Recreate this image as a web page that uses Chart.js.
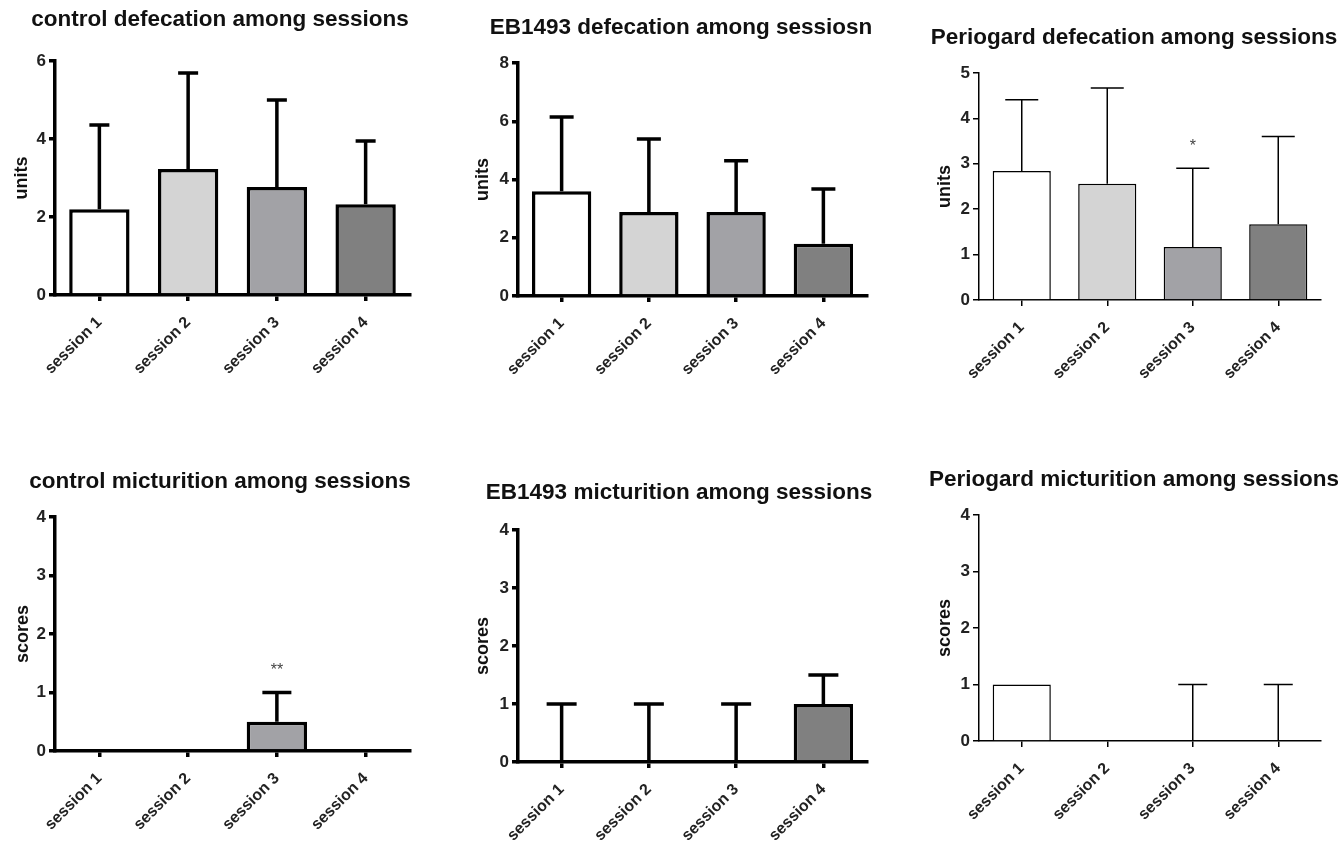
<!DOCTYPE html>
<html>
<head>
<meta charset="utf-8">
<script src="https://cdn.jsdelivr.net/npm/chart.js@4.4.1/dist/chart.umd.min.js"></script>
<style>
    html, body { margin: 0; padding: 0; background: #fff; width: 1338px; height: 844px; overflow: hidden; }
    canvas { position: absolute; }
</style>
</head>
<body>
<script>
// categories and colours
const sessions = ['session 1', 'session 2', 'session 3', 'session 4'];
const barColors = ['#ffffff', '#d4d4d4', '#a2a2a6', '#808080'];

// defecation (units), mean and SD
const controlDefecationMean = [2.2, 3.23, 2.77, 2.33];
const controlDefecationSd = [2.16, 2.46, 2.23, 1.62];
const eb1493DefecationMean = [3.6, 2.88, 2.88, 1.79];
const eb1493DefecationSd = [2.55, 2.51, 1.76, 1.88];
const periogardDefecationMean = [2.84, 2.56, 1.17, 1.67];
const periogardDefecationSd = [1.57, 2.11, 1.73, 1.93];

// micturition (scores), mean and SD
const controlMicturitionMean = [0, 0, 0.5, 0];
const controlMicturitionSd = [0, 0, 0.5, 0];
const eb1493MicturitionMean = [0, 0, 0, 1];
const eb1493MicturitionSd = [1, 1, 1, 0.5];
const periogardMicturitionMean = [1, 0, 0, 0];
const periogardMicturitionSd = [0, 0, 1, 1];

// significance marks
const noMarks = ['', '', '', ''];
const periogardDefecationMarks = ['', '', '*', ''];
const controlMicturitionMarks = ['', '', '**', ''];

const FONT = "'Liberation Sans', Arial, sans-serif";
const Y_AXIS_W = 55;
const X_AXIS_H = 95;

// error bars + significance stars, drawn from the y scale
const errorBars = {
    id: 'errorBars',
    afterDatasetsDraw(chart, args, opts) {
        const ctx = chart.ctx;
        const yScale = chart.scales.y;
        chart.data.datasets.forEach((ds, di) => {
            const meta = chart.getDatasetMeta(di);
            meta.data.forEach((bar, i) => {
                const v = ds.data[i];
                const sd = ds.sd[i];
                const yBase = yScale.getPixelForValue(v);
                const yTop = yScale.getPixelForValue(v + sd);
                ctx.save();
                ctx.strokeStyle = '#000';
                ctx.lineWidth = opts.lineWidth;
                if (sd > 0) {
                    ctx.beginPath();
                    ctx.moveTo(bar.x, yBase);
                    ctx.lineTo(bar.x, yTop);
                    ctx.moveTo(bar.x - opts.cap / 2, yTop);
                    ctx.lineTo(bar.x + opts.cap / 2, yTop);
                    ctx.stroke();
                }
                const mark = ds.marks[i];
                if (mark) {
                    ctx.fillStyle = '#444';
                    ctx.font = '16px ' + FONT;
                    ctx.textAlign = 'center';
                    ctx.textBaseline = 'middle';
                    ctx.fillText(mark, bar.x, yTop - opts.markGap);
                }
                ctx.restore();
            });
        });
    }
};

const panels = [
    { title: 'control defecation among sessions', yLabel: 'units', mean: controlDefecationMean, sd: controlDefecationSd, marks: noMarks,
      yMax: 6, yStep: 2, lw: 3.5, cap: 20, box: { l: 55, t: 61, r: 410, b: 295, titleX: 220, titleY: 20, yTitleX: 22 } },
    { title: 'EB1493 defecation among sessiosn', yLabel: 'units', mean: eb1493DefecationMean, sd: eb1493DefecationSd, marks: noMarks,
      yMax: 8, yStep: 2, lw: 3.5, cap: 24, box: { l: 518, t: 63, r: 867, b: 296, titleX: 681, titleY: 28, yTitleX: 483 } },
    { title: 'Periogard defecation among sessions', yLabel: 'units', mean: periogardDefecationMean, sd: periogardDefecationSd, marks: periogardDefecationMarks,
      yMax: 5, yStep: 1, lw: 1.5, cap: 33, box: { l: 979, t: 73, r: 1321, b: 300, titleX: 1134, titleY: 38, yTitleX: 945 } },
    { title: 'control micturition among sessions', yLabel: 'scores', mean: controlMicturitionMean, sd: controlMicturitionSd, marks: controlMicturitionMarks,
      yMax: 4, yStep: 1, lw: 3.5, cap: 29, box: { l: 55, t: 517, r: 410, b: 751, titleX: 220, titleY: 482, yTitleX: 23 } },
    { title: 'EB1493 micturition among sessions', yLabel: 'scores', mean: eb1493MicturitionMean, sd: eb1493MicturitionSd, marks: noMarks,
      yMax: 4, yStep: 1, lw: 3.5, cap: 30, box: { l: 518, t: 530, r: 867, b: 762, titleX: 679, titleY: 493, yTitleX: 483 } },
    { title: 'Periogard micturition among sessions', yLabel: 'scores', mean: periogardMicturitionMean, sd: periogardMicturitionSd, marks: noMarks,
      yMax: 4, yStep: 1, lw: 1.5, cap: 29, box: { l: 979, t: 515, r: 1321, b: 741, titleX: 1134, titleY: 480, yTitleX: 945 } }
];

panels.forEach(p => {
    const b = p.box;
    const left = b.l - Y_AXIS_W;
    const width = Math.round(2 * (b.titleX - left));
    const top = b.titleY - 11;
    const height = b.b + X_AXIS_H - top;
    const rightGap = left + width - b.r;

    const canvas = document.createElement('canvas');
    canvas.width = width;
    canvas.height = height;
    canvas.style.left = left + 'px';
    canvas.style.top = top + 'px';
    document.body.appendChild(canvas);

    new Chart(canvas, {
        type: 'bar',
        data: {
            labels: sessions,
            datasets: [{
                data: p.mean,
                sd: p.sd,
                marks: p.marks,
                backgroundColor: barColors,
                borderColor: '#000',
                borderWidth: p.lw,
                borderSkipped: 'bottom',
                categoryPercentage: 1,
                barPercentage: 0.68
            }]
        },
        options: {
            responsive: false,
            animation: false,
            devicePixelRatio: 1,
            layout: { padding: 0 },
            plugins: {
                legend: { display: false },
                tooltip: { enabled: false },
                title: {
                    display: true,
                    text: p.title,
                    color: '#111',
                    font: { family: FONT, size: 22.5, weight: 'bold', lineHeight: 1 },
                    padding: { top: 0, bottom: b.t - top - 22.5 }
                },
                errorBars: { lineWidth: p.lw, cap: p.cap, markGap: 22 }
            },
            scales: {
                x: {
                    offset: true,
                    grid: { drawOnChartArea: false, offset: false, color: '#000', lineWidth: p.lw, tickLength: 6 },
                    border: { display: true, color: '#000', width: p.lw },
                    ticks: {
                        autoSkip: false, minRotation: 45, maxRotation: 45, padding: 12,
                        color: '#222', font: { family: FONT, size: 16, weight: 'bold' }
                    },
                    afterFit: s => { s.height = X_AXIS_H; }
                },
                y: {
                    min: 0,
                    max: p.yMax,
                    grid: { drawOnChartArea: false, color: '#000', lineWidth: p.lw, tickLength: 6 },
                    border: { display: true, color: '#000', width: p.lw },
                    ticks: { stepSize: p.yStep, padding: 3, color: '#222', font: { family: FONT, size: 17, weight: 'bold' } },
                    title: {
                        display: true,
                        text: p.yLabel,
                        color: '#111',
                        font: { family: FONT, size: 18, weight: 'bold', lineHeight: 1 },
                        padding: { top: b.yTitleX - left - 9, bottom: 0 }
                    },
                    afterFit: s => { s.width = Y_AXIS_W; }
                },
                // empty spacer on the right so the title can centre on the whole canvas
                spacer: {
                    type: 'linear',
                    position: 'right',
                    grid: { display: false },
                    border: { display: false },
                    ticks: { display: false },
                    afterFit: s => { s.width = rightGap; }
                }
            }
        },
        plugins: [errorBars]
    });
});
</script>
</body>
</html>
